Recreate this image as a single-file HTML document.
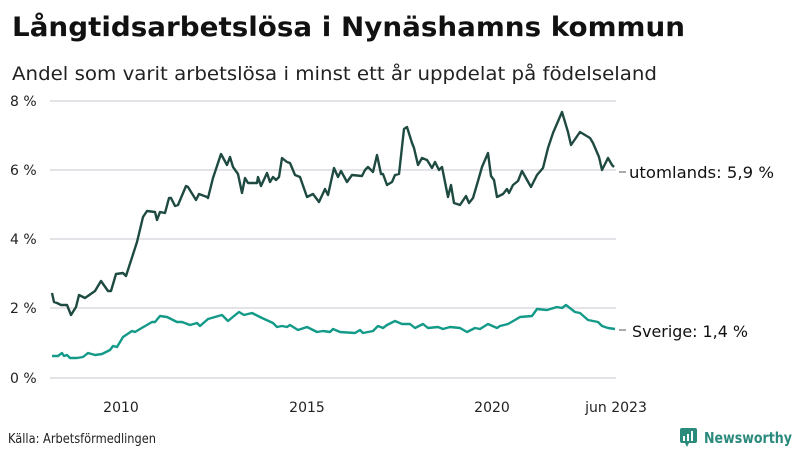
<!DOCTYPE html>
<html><head><meta charset="utf-8"><style>
html,body{margin:0;padding:0;background:#fff;}
svg{display:block;font-family:"DejaVu Sans","Liberation Sans",sans-serif;}
</style></head><body>
<svg width="800" height="450" viewBox="0 0 800 450" xmlns="http://www.w3.org/2000/svg">
<text x="12" y="36" font-size="27" font-weight="bold" fill="#111" textLength="673" lengthAdjust="spacingAndGlyphs">Långtidsarbetslösa i Nynäshamns kommun</text>
<text x="12" y="80" font-size="19" fill="#222" textLength="645" lengthAdjust="spacingAndGlyphs">Andel som varit arbetslösa i minst ett år uppdelat på födelseland</text>
<g stroke="#e4e4e8" stroke-width="2">
<line x1="50" y1="101" x2="616" y2="101"/><line x1="50" y1="170" x2="616" y2="170"/><line x1="50" y1="239" x2="616" y2="239"/><line x1="50" y1="308" x2="616" y2="308"/><line x1="50" y1="378" x2="616" y2="378"/>
</g>
<g font-size="14" fill="#222">
<text x="10" y="106">8 %</text><text x="10" y="175">6 %</text><text x="10" y="244">4 %</text><text x="10" y="313">2 %</text><text x="10" y="383">0 %</text>
<text x="121" y="412" text-anchor="middle">2010</text><text x="307" y="412" text-anchor="middle">2015</text><text x="492" y="412" text-anchor="middle">2020</text><text x="616" y="412" text-anchor="middle">jun 2023</text>
</g>
<polyline fill="none" stroke="#1e4a42" stroke-width="2.4" stroke-linejoin="round" points="52,293 54,302 57,303 61,305 67,305 71,315 76,307 79,295 85,298 95,291 101,281 108,291 111,291 116,274 123,273 126,276 137,242 143,217 147,211 155,212 157,220 160,212 165,213 169,198 171,198 175,206 178,205 186,186 188,187 196,200 199,194 207,197 208,198 213,178 221,154 227,165 230,157 233,167 238,174 242,193 245,178 248,183 257,183 258,177 261,186 267,173 270,182 273,177 276,180 279,177 282,158 287,162 290,163 295,175 300,177 307,197 313,194 319,202 325,189 328,195 334,168 338,177 341,171 347,182 352,175 362,176 365,170 368,167 373,172 377,155 381,174 383,174 387,185 392,182 395,175 399,174 404,129 407,127 412,143 414,148 418,165 422,158 427,160 432,168 435,162 439,170 442,167 448,197 451,185 454,203 460,205 466,196 469,203 473,198 478,181 482,167 488,153 491,176 494,180 497,197 503,194 507,189 509,193 513,185 518,181 522,171 531,187 537,175 543,168 548,148 553,133 562,112 568,132 571,145 580,132 590,138 593,143 599,157 602,170 608,158 612,165 614,167"/>
<polyline fill="none" stroke="#139a88" stroke-width="2.4" stroke-linejoin="round" points="52,356 58,356 62,353 64,356 67,355 70,358 77,358 83,357 88,353 95,355 102,354 110,350 113,346 117,347 123,337 132,331 135,332 140,329 152,322 155,322 160,316 167,317 177,322 182,322 190,325 197,323 200,326 208,319 222,315 228,321 234,316 239,312 244,315 252,313 262,318 273,323 277,327 282,326 287,327 290,325 298,330 307,327 317,332 323,331 330,332 333,329 340,332 355,333 360,330 363,333 373,331 378,326 383,328 387,325 395,321 402,324 410,324 415,328 423,324 428,328 438,327 443,329 450,327 460,328 467,332 475,328 480,329 488,324 497,328 500,326 508,324 515,320 520,317 532,316 537,309 547,310 557,307 562,308 566,305 575,312 580,313 588,320 598,322 602,326 608,328 615,329"/>
<line x1="619" y1="172" x2="626" y2="172" stroke="#555" stroke-width="1"/>
<line x1="619" y1="330" x2="626" y2="330" stroke="#555" stroke-width="1"/>
<text x="629" y="178" font-size="16" fill="#111" textLength="145" lengthAdjust="spacingAndGlyphs">utomlands: 5,9 %</text>
<text x="632" y="337" font-size="16" fill="#111" textLength="116" lengthAdjust="spacingAndGlyphs">Sverige: 1,4 %</text>
<text x="8" y="443" font-size="13" fill="#222" textLength="148" lengthAdjust="spacingAndGlyphs">Källa: Arbetsförmedlingen</text>
<g transform="translate(680,428)">
<rect x="0" y="0" width="17" height="15" rx="2" fill="#2a8a7c"/>
<polygon points="5,15 9,15 7,19" fill="#2a8a7c"/>
<rect x="3" y="8" width="2" height="5" fill="#fff"/><rect x="7" y="6" width="2" height="7" fill="#fff"/><rect x="11" y="3" width="2" height="10" fill="#fff"/>
</g>
<text x="704" y="443" font-size="15" font-weight="bold" fill="#2a8a7c" textLength="88" lengthAdjust="spacingAndGlyphs">Newsworthy</text>
</svg>
</body></html>
